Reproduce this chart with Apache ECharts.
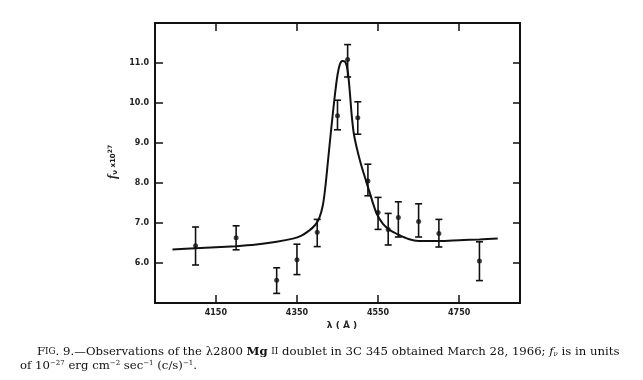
<!DOCTYPE html>
<html>
<head>
<meta charset="utf-8">
<script src="https://cdn.jsdelivr.net/npm/echarts@6/dist/echarts.min.js"></script>
<style>
html,body{margin:0;padding:0;background:#fff;}
#chart{width:643px;height:380px;}
</style>
</head>
<body>
<div id="chart"></div>
<script>
// Observed points (wavelength in Å) and f_nu (x10^27)
const lambdaObs = [4100, 4200, 4300, 4350, 4400, 4450, 4475, 4500, 4525, 4550, 4575, 4600, 4650, 4700, 4800];
const fluxObs   = [6.43, 6.63, 5.57, 6.08, 6.77, 9.68, 11.09, 9.63, 8.05, 7.26, 6.84, 7.14, 7.04, 6.74, 6.05];
const errLow    = [5.95, 6.33, 5.24, 5.71, 6.41, 9.33, 10.65, 9.22, 7.68, 6.84, 6.45, 6.65, 6.65, 6.40, 5.56];
const errHigh   = [6.90, 6.93, 5.88, 6.47, 7.09, 10.07, 11.46, 10.03, 8.47, 7.64, 7.24, 7.53, 7.48, 7.09, 6.53];

// Fitted profile curve
const curveLambda = [4043, 4100, 4200, 4250, 4300, 4340, 4360, 4380, 4395, 4405, 4414, 4420, 4427, 4435, 4443, 4450, 4456, 4462, 4468, 4473, 4477, 4481, 4485, 4490, 4497, 4507, 4518, 4530, 4546, 4562, 4580, 4600, 4625, 4650, 4700, 4750, 4800, 4845];
const curveFlux   = [6.34, 6.37, 6.42, 6.46, 6.53, 6.61, 6.68, 6.81, 6.95, 7.12, 7.45, 7.90, 8.60, 9.40, 10.15, 10.70, 10.97, 11.05, 11.04, 10.92, 10.65, 10.20, 9.70, 9.25, 8.90, 8.50, 8.13, 7.74, 7.25, 6.98, 6.82, 6.71, 6.60, 6.55, 6.55, 6.57, 6.59, 6.61];

const xTickValues = [4150, 4350, 4550, 4750];
const yTickValues = [6, 7, 8, 9, 10, 11];

const chart = echarts.init(document.getElementById('chart'), null, {renderer: 'canvas'});

const axisLineStyle = {color: '#111', width: 2};
const tickStyle = {color: '#111', width: 1.5};
const labelFont = {fontFamily: 'DejaVu Sans', fontSize: 8, fontWeight: 'bold', color: '#222'};

const option = {
  backgroundColor: '#fff',
  animation: false,
  grid: {left: 155, right: 123, top: 23, bottom: 77, containLabel: false},
  xAxis: [
    {
      type: 'value', min: 4000, max: 4900, position: 'bottom',
      axisLine: {show: true, lineStyle: axisLineStyle},
      axisTick: {show: true, inside: true, length: 8, lineStyle: tickStyle, customValues: xTickValues},
      axisLabel: Object.assign({show: true, margin: 6, customValues: xTickValues, formatter: v => String(v)}, labelFont),
      splitLine: {show: false}
    },
    {
      type: 'value', min: 4000, max: 4900, position: 'top',
      axisLine: {show: true, lineStyle: axisLineStyle},
      axisTick: {show: true, inside: true, length: 8, lineStyle: tickStyle, customValues: xTickValues},
      axisLabel: {show: false},
      splitLine: {show: false}
    }
  ],
  yAxis: [
    {
      type: 'value', min: 5, max: 12, position: 'left',
      axisLine: {show: true, lineStyle: axisLineStyle},
      axisTick: {show: true, inside: true, length: 8, lineStyle: tickStyle, customValues: yTickValues},
      axisLabel: Object.assign({show: true, margin: 6, customValues: yTickValues, formatter: v => v.toFixed(1)}, labelFont),
      splitLine: {show: false}
    },
    {
      type: 'value', min: 5, max: 12, position: 'right',
      axisLine: {show: true, lineStyle: axisLineStyle},
      axisTick: {show: true, inside: true, length: 7, lineStyle: tickStyle, customValues: yTickValues},
      axisLabel: {show: false},
      splitLine: {show: false}
    }
  ],
  series: [
    {
      type: 'line',
      xAxisIndex: 0, yAxisIndex: 0,
      data: curveLambda.map((x, i) => [x, curveFlux[i]]),
      smooth: 0.3,
      showSymbol: false,
      lineStyle: {color: '#111', width: 2},
      z: 2
    },
    {
      type: 'custom',
      xAxisIndex: 0, yAxisIndex: 0,
      data: lambdaObs.map((x, i) => [x, errLow[i], errHigh[i]]),
      renderItem: function (params, api) {
        const x = api.value(0);
        const lo = api.coord([x, api.value(1)]);
        const hi = api.coord([x, api.value(2)]);
        const hw = 3.5;
        const st = {stroke: '#111', lineWidth: 1.6};
        return {
          type: 'group',
          children: [
            {type: 'line', shape: {x1: lo[0], y1: lo[1], x2: hi[0], y2: hi[1]}, style: st},
            {type: 'line', shape: {x1: lo[0] - hw, y1: lo[1], x2: lo[0] + hw, y2: lo[1]}, style: st},
            {type: 'line', shape: {x1: hi[0] - hw, y1: hi[1], x2: hi[0] + hw, y2: hi[1]}, style: st}
          ]
        };
      },
      z: 3
    },
    {
      type: 'scatter',
      xAxisIndex: 0, yAxisIndex: 0,
      data: lambdaObs.map((x, i) => [x, fluxObs[i]]),
      symbol: 'circle',
      symbolSize: 5,
      itemStyle: {color: '#111'},
      z: 4
    }
  ],
  graphic: [
    {
      type: 'text',
      x: 113, y: 162,
      rotation: Math.PI / 2,
      style: {
        text: '{f|f}{sub|ν}{x| x10}{sup|27}',
        align: 'center', verticalAlign: 'middle',
        fill: '#222',
        rich: {
          f: {fontFamily: 'Liberation Serif', fontStyle: 'italic', fontWeight: 'bold', fontSize: 13, fill: '#222'},
          sub: {fontFamily: 'DejaVu Sans', fontSize: 7, fontWeight: 'bold', padding: [5, 0, 0, 0], fill: '#222'},
          x: {fontFamily: 'DejaVu Sans', fontSize: 7, fontWeight: 'bold', fill: '#222'},
          sup: {fontFamily: 'DejaVu Sans', fontSize: 6, fontWeight: 'bold', padding: [0, 0, 5, 0], fill: '#222'}
        }
      }
    },
    {
      type: 'text',
      x: 342, y: 326,
      style: {
        text: 'λ ( Å )',
        align: 'center', verticalAlign: 'middle',
        fontFamily: 'DejaVu Sans', fontSize: 9, fontWeight: 'bold', fill: '#222'
      }
    },
    {
      type: 'text',
      x: 37, y: 352,
      style: {
        text: '{n|F}{sc|IG}{n|. 9.—Observations of the λ2800 }{b|Mg}{n| }{sc|II}{n| doublet in 3C 345 obtained March 28, 1966; }{i|f}{sub|ν}{n| is in units}',
        verticalAlign: 'middle',
        fill: '#111',
        rich: {
          n: {fontFamily: 'DejaVu Serif', fontSize: 11.7, fill: '#111'},
          sc: {fontFamily: 'DejaVu Serif', fontSize: 8.8, fill: '#111'},
          b: {fontFamily: 'DejaVu Serif', fontSize: 11.7, fontWeight: 'bold', fill: '#111'},
          i: {fontFamily: 'DejaVu Serif', fontSize: 11.7, fontStyle: 'italic', fill: '#111'},
          sub: {fontFamily: 'DejaVu Serif', fontSize: 7, fontStyle: 'italic', padding: [4, 0, 0, 0], fill: '#111'}
        }
      }
    },
    {
      type: 'text',
      x: 20, y: 366,
      style: {
        text: '{n|of 10}{sup|−27}{n| erg cm}{sup|−2}{n| sec}{sup|−1}{n| (c/s)}{sup|−1}{n|.}',
        verticalAlign: 'middle',
        fill: '#111',
        rich: {
          n: {fontFamily: 'DejaVu Serif', fontSize: 11.7, fill: '#111'},
          sup: {fontFamily: 'DejaVu Serif', fontSize: 7, padding: [0, 0, 5, 0], fill: '#111'}
        }
      }
    }
  ]
};

chart.setOption(option);
</script>
</body>
</html>
